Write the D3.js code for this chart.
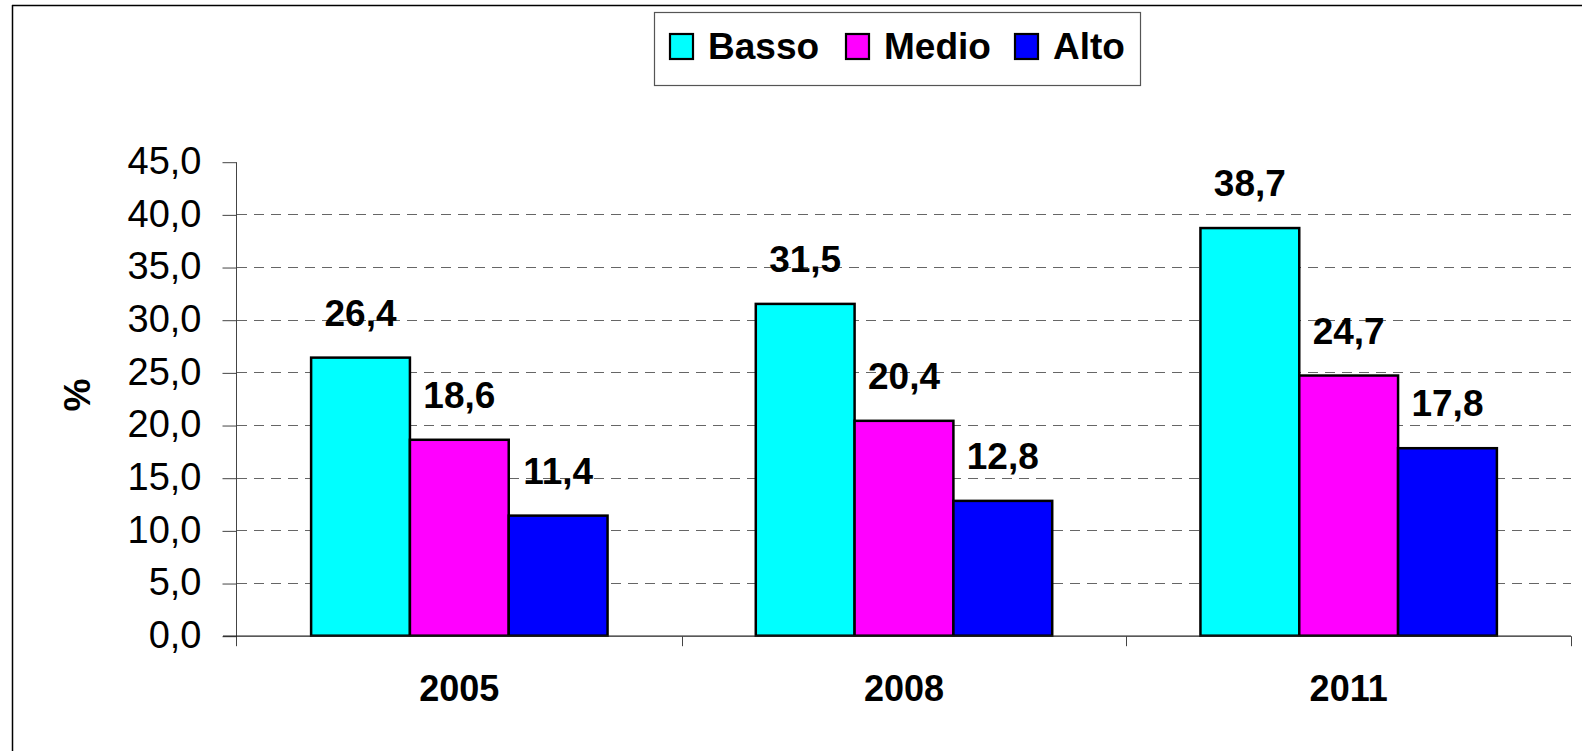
<!DOCTYPE html>
<meta charset="utf-8">
<script src="https://d3js.org/d3.v7.min.js"></script>
<style>
  body { margin: 0; background: #fff; }
  text { font-family: "Liberation Sans", Arial, sans-serif; }
</style>
<div id="chart"></div>
<script>
// data
var years = ["2005", "2008", "2011"];
var seriesNames = ["Basso", "Medio", "Alto"];
var basso = [26.4, 31.5, 38.7];
var medio = [18.6, 20.4, 24.7];
var alto = [11.4, 12.8, 17.8];
var yTicks = [0, 5, 10, 15, 20, 25, 30, 35, 40, 45];
var colors = ["#00ffff", "#ff00ff", "#0000ff"];

var width = 1582, height = 751;
var plotLeft = 237, plotRight = 1571, plotTop = 161.7, plotBottom = 635.7;

var svg = d3.select("#chart").append("svg")
  .attr("width", width)
  .attr("height", height);

// outer frame (top and left edge visible)
svg.append("line").attr("x1", 12).attr("x2", width).attr("y1", 5.5).attr("y2", 5.5)
  .attr("stroke", "#000").attr("stroke-width", 1.5);
svg.append("line").attr("x1", 12.5).attr("x2", 12.5).attr("y1", 5).attr("y2", height)
  .attr("stroke", "#000").attr("stroke-width", 1.5);

var x0 = d3.scaleBand().domain(years).range([plotLeft, plotRight]).padding(0);
var x1 = d3.scaleBand().domain(seriesNames).range([0, x0.bandwidth()])
  .paddingInner(0).paddingOuter(0.75);
var y = d3.scaleLinear().domain([0, 45]).range([plotBottom, plotTop]);

var fmt = function(v) { return d3.format(".1f")(v).replace(".", ","); };

// gridlines
svg.append("g")
  .selectAll("line")
  .data(yTicks.filter(function(d) { return d > 0 && d < 45; }))
  .join("line")
    .attr("x1", plotLeft).attr("x2", plotRight)
    .attr("y1", function(d) { return Math.round(y(d)) + 0.5; })
    .attr("y2", function(d) { return Math.round(y(d)) + 0.5; })
    .attr("stroke", "#666")
    .attr("stroke-width", 1)
    .attr("stroke-dasharray", "10,7");

// y axis
var yAxis = svg.append("g")
  .attr("transform", "translate(" + (plotLeft - 0.5) + ",0.5)")
  .call(d3.axisLeft(y).tickValues(yTicks).tickSize(14).tickPadding(21).tickFormat(fmt));
yAxis.select(".domain").attr("stroke", "#444").attr("d", "M0," + plotTop + "V" + (plotBottom + 10));
yAxis.selectAll(".tick line").attr("stroke", "#444");
yAxis.selectAll("text")
  .attr("font-size", 38)
  .attr("fill", "#000")
  .attr("font-family", "Liberation Sans, Arial, sans-serif")
  .attr("dy", "0.3em");

// y title
svg.append("text")
  .attr("transform", "translate(90,395) rotate(-90)")
  .attr("text-anchor", "middle")
  .attr("font-size", 37)
  .attr("font-weight", "bold")
  .text("%");

// bars
var rows = years.map(function(yr, i) {
  return { year: yr, values: [basso[i], medio[i], alto[i]] };
});

var groups = svg.append("g").selectAll("g")
  .data(rows)
  .join("g")
    .attr("transform", function(d) { return "translate(" + x0(d.year) + ",0)"; });

groups.selectAll("rect")
  .data(function(d) { return d.values.map(function(v, j) { return { name: seriesNames[j], value: v, idx: j }; }); })
  .join("rect")
    .attr("x", function(d) { return x1(d.name); })
    .attr("y", function(d) { return y(d.value); })
    .attr("width", x1.bandwidth())
    .attr("height", function(d) { return plotBottom - y(d.value); })
    .attr("fill", function(d) { return colors[d.idx]; })
    .attr("stroke", "#000")
    .attr("stroke-width", 2.5);

groups.selectAll("text.val")
  .data(function(d) { return d.values.map(function(v, j) { return { name: seriesNames[j], value: v }; }); })
  .join("text")
    .attr("class", "val")
    .attr("x", function(d) { return x1(d.name) + x1.bandwidth() / 2; })
    .attr("y", function(d) { return y(d.value) - 32; })
    .attr("text-anchor", "middle")
    .attr("font-size", 37)
    .attr("font-weight", "bold")
    .text(function(d) { return fmt(d.value); });

// x axis
var xAxis = svg.append("g")
  .attr("transform", "translate(0," + (plotBottom + 0.5) + ")");
xAxis.append("line").attr("x1", plotLeft - 14).attr("x2", plotRight).attr("y1", 0).attr("y2", 0)
  .attr("stroke", "#222").attr("stroke-width", 1.2);
xAxis.selectAll("line.tk")
  .data(years.slice(1).map(function(d) { return x0(d); }).concat([plotRight]))
  .join("line")
    .attr("class", "tk")
    .attr("x1", function(d) { return Math.round(d) + 0.5; })
    .attr("x2", function(d) { return Math.round(d) + 0.5; })
    .attr("y1", 0).attr("y2", 10)
    .attr("stroke", "#444");
xAxis.selectAll("text")
  .data(years)
  .join("text")
    .attr("x", function(d) { return x0(d) + x0.bandwidth() / 2; })
    .attr("y", 65)
    .attr("text-anchor", "middle")
    .attr("font-size", 36)
    .attr("font-weight", "bold")
    .text(function(d) { return d; });

// legend
var legend = svg.append("g");
legend.append("rect")
  .attr("x", 654.5).attr("y", 12.5).attr("width", 486).attr("height", 73)
  .attr("fill", "#fff").attr("stroke", "#555").attr("stroke-width", 1.2);
var legX = [669, 845, 1014];
var items = legend.selectAll("g")
  .data(seriesNames)
  .join("g")
    .attr("transform", function(d, i) { return "translate(" + legX[i] + ",0)"; });
items.append("rect")
  .attr("x", 1).attr("y", 34).attr("width", 23).attr("height", 25)
  .attr("fill", function(d, i) { return colors[i]; })
  .attr("stroke", "#000").attr("stroke-width", 2.2);
items.append("text")
  .attr("x", 39).attr("y", 59)
  .attr("font-size", 37)
  .attr("font-weight", "bold")
  .text(function(d) { return d; });
</script>
